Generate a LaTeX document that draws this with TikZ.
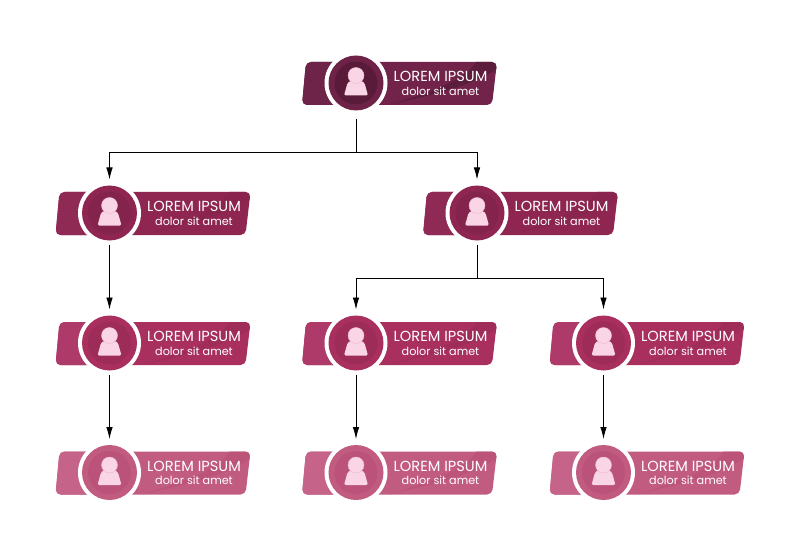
\documentclass[tikz,border=0pt]{standalone}
\usepackage{fontspec}
\setmainfont{Poppins}
\usetikzlibrary{arrows.meta}
\definecolor{bandA}{HTML}{722349}\definecolor{darkA}{HTML}{5C1C3C}\definecolor{leftA}{HTML}{6E2348}\definecolor{discA}{HTML}{6F2247}\definecolor{innerA}{HTML}{5A1B3B}
\definecolor{bandB}{HTML}{8F2651}\definecolor{darkB}{HTML}{88244D}\definecolor{leftB}{HTML}{8F2A55}\definecolor{discB}{HTML}{8F2651}\definecolor{innerB}{HTML}{84234B}
\definecolor{bandC}{HTML}{A82F5E}\definecolor{darkC}{HTML}{A02C5A}\definecolor{leftC}{HTML}{AD3A68}\definecolor{discC}{HTML}{A82F5E}\definecolor{innerC}{HTML}{9D2C59}
\definecolor{bandD}{HTML}{C25B80}\definecolor{darkD}{HTML}{BC547A}\definecolor{leftD}{HTML}{C56488}\definecolor{discD}{HTML}{C25B80}\definecolor{innerD}{HTML}{BA5279}
\definecolor{skin}{HTML}{FAD5E5}\definecolor{skinline}{HTML}{EDB9CF}
\tikzset{
  x=1pt,y=-1pt,
  ring/.style={circle,fill=white,minimum size=63pt,inner sep=0pt},
  disc/.style={circle,minimum size=55pt,inner sep=0pt},
  innerdisc/.style={circle,minimum size=43pt,inner sep=0pt},
  head/.style={circle,fill=skin,draw=skinline,line width=.4pt,minimum size=16pt,inner sep=0pt},
  title/.style={text=white,font=\fontsize{14.6}{16}\selectfont,inner sep=0pt,anchor=center},
  sub/.style={text=white,font=\fontsize{11.2}{13}\selectfont,inner sep=0pt,anchor=center},
  wire/.style={draw=black,line width=.8pt},
  arrowwire/.style={wire,-{Latex[length=12pt,width=6.5pt]},shorten >=1.8pt},
}
\newcommand{\orgcard}[4]{% id, cx, cy, letter
  \begin{scope}[shift={(#2,#3)}]
    \begin{scope}
      \clip[rounded corners=5pt] (-50,-21) -- (141,-21) -- (136,22) -- (-54,22) -- cycle;
      \fill[band#4] (-60,-30) rectangle (150,30);
      \fill[left#4] (-60,-30) rectangle (0,30);
      \fill[dark#4] (34,22) .. controls (70,12) and (105,8) .. (141,-14) -- (141,-21) -- (120,-21) .. controls (110,-2) and (70,10) .. (34,22) -- cycle;
    \end{scope}
    \node[ring] (#1) at (0,0) {};
    \node[disc,fill=disc#4] (#1-disc) at (0,0) {};
    \node[innerdisc,fill=inner#4] (#1-inner) at (0,0) {};
    \fill[skin,rounded corners=1.5pt] (-12,12.5) -- (-8.5,0) .. controls (-5,-3) and (5,-3) .. (8.5,0) -- (12,12.5) -- cycle;
    \node[head] (#1-head) at (0,-7.5) {};
    \node[title] (#1-title) at (84.5,-6.5) {LOREM IPSUM};
    \node[sub] (#1-sub) at (84.5,8) {dolor sit amet};
  \end{scope}
}
\begin{document}
\begin{tikzpicture}
\useasboundingbox (0,0) rectangle (800,556);
\orgcard{ceo}{356}{83}{A}
\orgcard{ml}{109.5}{213}{B}
\orgcard{mr}{477}{213}{B}
\orgcard{a}{109.5}{343}{C}
\orgcard{b}{356}{343}{C}
\orgcard{c}{603.5}{343}{C}
\orgcard{d}{109.5}{472.5}{D}
\orgcard{e}{356}{472.5}{D}
\orgcard{f}{603.5}{472.5}{D}
\coordinate (bus1) at (356,152.5);
\coordinate (bus2) at (477,278.5);
\draw[wire] (ceo.south) ++(0,4) -- (bus1);
\draw[arrowwire] (bus1) -| (ml.north);
\draw[arrowwire] (bus1) -| (mr.north);
\draw[wire] (mr.south) -- (bus2);
\draw[arrowwire] (bus2) -| (b.north);
\draw[arrowwire] (bus2) -| (c.north);
\draw[arrowwire] (ml.south) -- (a.north);
\draw[arrowwire] (a.south) -- (d.north);
\draw[arrowwire] (b.south) -- (e.north);
\draw[arrowwire] (c.south) -- (f.north);
\end{tikzpicture}
\end{document}
